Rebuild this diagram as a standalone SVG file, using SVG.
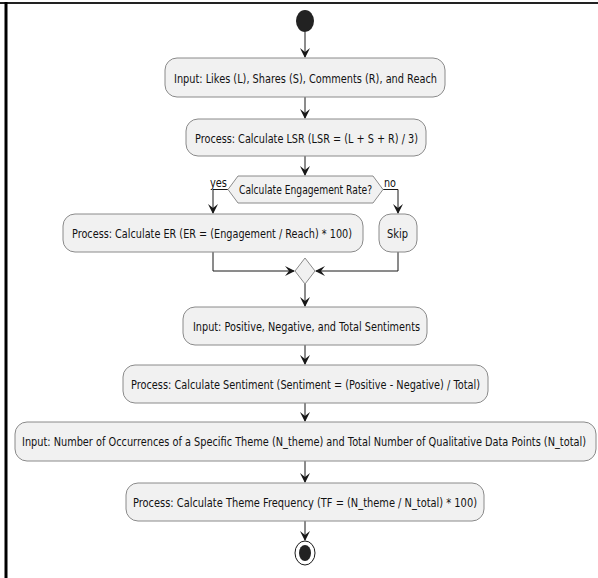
<svg xmlns="http://www.w3.org/2000/svg" width="598" height="578" viewBox="0 0 598 578">
<style>
.box{fill:#F1F1F1;stroke:#8a8a8a;stroke-width:1}
.t{font-family:"DejaVu Sans","Liberation Sans",sans-serif;font-size:13px;fill:#111}
.s{font-family:"DejaVu Sans","Liberation Sans",sans-serif;font-size:12px;fill:#111}
.ln{fill:none;stroke:#181818;stroke-width:1}
.ah{fill:#181818;stroke:none}
</style>
<defs>
<polygon id="ad" points="-5,-10 0,0 5,-10 0,-6"/>
<polygon id="ar" points="-10,-5 0,0 -10,5 -6,0"/>
<polygon id="al" points="10,-5 0,0 10,5 6,0"/>
</defs>
<rect x="0" y="0" width="598" height="578" fill="#fff"/>
<g id="frame">
<line x1="0" y1="3" x2="598" y2="3" stroke="#222" stroke-width="2"/>
<line x1="6" y1="2" x2="6" y2="578" stroke="#000" stroke-width="3"/>
</g>
<g id="connectors">
<line class="ln" x1="305" y1="32" x2="305" y2="57"/>
<use href="#ad" class="ah" x="305" y="58"/>
<line class="ln" x1="305" y1="97" x2="305" y2="118"/>
<use href="#ad" class="ah" x="305" y="119"/>
<line class="ln" x1="305" y1="156" x2="305" y2="175"/>
<use href="#ad" class="ah" x="305" y="176"/>
<polyline class="ln" points="228,189.5 213,189.5 213,213"/>
<use href="#ad" class="ah" x="213" y="214"/>
<polyline class="ln" points="383,189.5 398,189.5 398,213"/>
<use href="#ad" class="ah" x="398" y="214"/>
<polyline class="ln" points="213,252 213,271 294,271"/>
<use href="#ar" class="ah" x="295" y="271"/>
<polyline class="ln" points="398,252 398,271 316,271"/>
<use href="#al" class="ah" x="315" y="271"/>
<line class="ln" x1="305" y1="284" x2="305" y2="306"/>
<use href="#ad" class="ah" x="305" y="307"/>
<line class="ln" x1="305" y1="345" x2="305" y2="364"/>
<use href="#ad" class="ah" x="305" y="365"/>
<line class="ln" x1="305" y1="403" x2="305" y2="421"/>
<use href="#ad" class="ah" x="305" y="422"/>
<line class="ln" x1="305" y1="461" x2="305" y2="482"/>
<use href="#ad" class="ah" x="305" y="483"/>
<line class="ln" x1="305" y1="521" x2="305" y2="540"/>
<use href="#ad" class="ah" x="305" y="541"/>
<text class="s" x="210" y="187" textLength="17" lengthAdjust="spacingAndGlyphs">yes</text>
<text class="s" x="384" y="187" textLength="12" lengthAdjust="spacingAndGlyphs">no</text>
</g>
<g id="start"><ellipse cx="305" cy="21" rx="9" ry="11" fill="#222"/></g>
<g id="n1">
<rect class="box" x="165" y="58" width="280" height="39" rx="12"/>
<text class="t" x="174" y="82.5" textLength="263" lengthAdjust="spacingAndGlyphs">Input: Likes (L), Shares (S), Comments (R), and Reach</text>
</g>
<g id="n2">
<rect class="box" x="186" y="119" width="240" height="37" rx="12"/>
<text class="t" x="195" y="142.5" textLength="223" lengthAdjust="spacingAndGlyphs">Process: Calculate LSR (LSR = (L + S + R) / 3)</text>
</g>
<g id="decision">
<polygon class="box" points="228,189.5 238,176 373,176 383,189.5 373,203 238,203"/>
<text class="s" x="239" y="194" textLength="133" lengthAdjust="spacingAndGlyphs">Calculate Engagement Rate?</text>
</g>
<g id="er">
<rect class="box" x="63" y="214" width="300" height="38" rx="12"/>
<text class="t" x="72" y="237.5" textLength="280" lengthAdjust="spacingAndGlyphs">Process: Calculate ER (ER = (Engagement / Reach) * 100)</text>
</g>
<g id="skip">
<rect class="box" x="379" y="214" width="38" height="38" rx="12"/>
<text class="t" x="387" y="237.5" textLength="21" lengthAdjust="spacingAndGlyphs">Skip</text>
</g>
<g id="merge">
<polygon class="box" points="305,258 315,271 305,284 295,271"/>
</g>
<g id="n3">
<rect class="box" x="183" y="307" width="244" height="38" rx="12"/>
<text class="t" x="193" y="330.5" textLength="227" lengthAdjust="spacingAndGlyphs">Input: Positive, Negative, and Total Sentiments</text>
</g>
<g id="n4">
<rect class="box" x="123" y="365" width="365" height="38" rx="12"/>
<text class="t" x="131" y="388.5" textLength="349" lengthAdjust="spacingAndGlyphs">Process: Calculate Sentiment (Sentiment = (Positive - Negative) / Total)</text>
</g>
<g id="n5">
<rect class="box" x="15" y="422" width="581" height="39" rx="12"/>
<text class="t" x="22" y="446" textLength="564" lengthAdjust="spacingAndGlyphs">Input: Number of Occurrences of a Specific Theme (N_theme) and Total Number of Qualitative Data Points (N_total)</text>
</g>
<g id="n6">
<rect class="box" x="126" y="483" width="358" height="38" rx="12"/>
<text class="t" x="133" y="506.5" textLength="344" lengthAdjust="spacingAndGlyphs">Process: Calculate Theme Frequency (TF = (N_theme / N_total) * 100)</text>
</g>
<g id="end">
<ellipse cx="305" cy="553" rx="10" ry="12" fill="#fff" stroke="#181818" stroke-width="1"/>
<ellipse cx="305" cy="553" rx="6" ry="8" fill="#222"/>
</g>
</svg>
